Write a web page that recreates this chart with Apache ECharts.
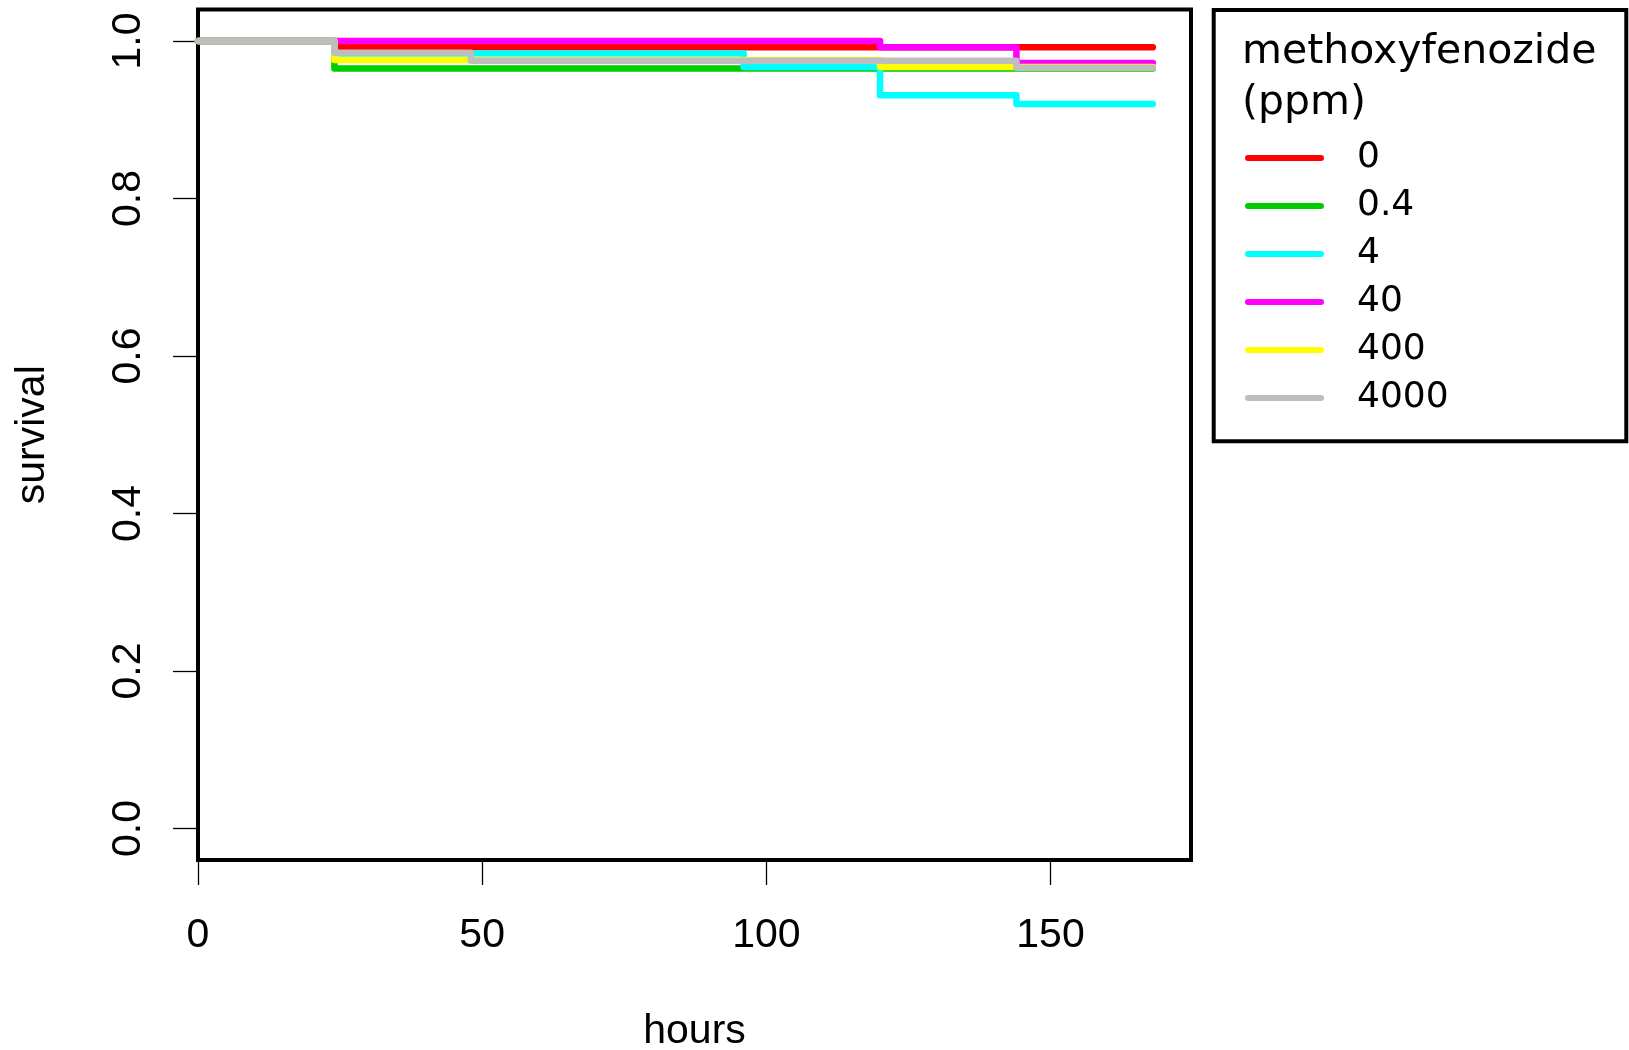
<!DOCTYPE html>
<html>
<head>
<meta charset="utf-8">
<script src="https://cdn.jsdelivr.net/npm/echarts@6/dist/echarts.min.js"></script>
<style>
html,body{margin:0;padding:0;background:#fff;}
#chart{width:1629px;height:1050px;}
</style>
</head>
<body>
<div id="chart"></div>
<script>
// ---- data ----
const groupNames = ['0', '0.4', '4', '40', '400', '4000'];
const groupColors = ['#FF0000', '#00CD00', '#00FFFF', '#FF00FF', '#FFFF00', '#BEBEBE'];

const hours0 = [0, 24, 168];
const surv0  = [1, 0.992, 0.992];

const hours04 = [0, 24, 168];
const surv04  = [1, 0.965, 0.965];

const hours4 = [0, 24, 96, 120, 144, 168];
const surv4  = [1, 0.984, 0.967, 0.931, 0.920, 0.920];

const hours40 = [0, 120, 144, 168];
const surv40  = [1, 0.992, 0.972, 0.972];

const hours400 = [0, 24, 120, 168];
const surv400  = [1, 0.976, 0.967, 0.967];

const hours4000 = [0, 24, 48, 144, 168];
const surv4000  = [1, 0.985, 0.975, 0.966, 0.966];

const xTicks = [0, 50, 100, 150];
const yTicks = [0, 0.2, 0.4, 0.6, 0.8, 1.0];

const legendTitle = ['methoxyfenozide', '(ppm)'];
const xName = 'hours';
const yName = 'survival';

// ---- build ----
const allHours = [hours0, hours04, hours4, hours40, hours400, hours4000];
const allSurv  = [surv0, surv04, surv4, surv40, surv400, surv4000];

const series = groupNames.map((name, k) => ({
  name: name,
  type: 'line',
  step: 'end',
  symbol: 'none',
  showSymbol: false,
  animation: false,
  data: allHours[k].map((h, i) => [h, allSurv[k][i]]),
  lineStyle: { color: groupColors[k], width: 6.5, cap: 'round', join: 'round' },
  itemStyle: { color: groupColors[k] },
  emphasis: { disabled: true }
}));

const axisFont = 'Liberation Sans';
const chart = echarts.init(document.getElementById('chart'), null, { renderer: 'canvas' });
chart.setOption({
  backgroundColor: '#ffffff',
  animation: false,
  grid: {
    left: 198, top: 9.5, width: 993, height: 850.5,
    show: true, borderColor: '#000', borderWidth: 4, backgroundColor: 'transparent',
    containLabel: false, outerBoundsMode: 'none'
  },
  xAxis: {
    type: 'value', min: 0, max: 174.72,
    splitLine: { show: false },
    axisLine: { show: false, onZero: false },
    axisTick: { show: true, inside: false, length: 25, customValues: xTicks,
      lineStyle: { color: '#000', width: 1.3 } },
    axisLabel: { show: true, customValues: xTicks, margin: 76, verticalAlign: 'middle', align: 'center',
      fontFamily: axisFont, fontSize: 41, color: '#000',
      formatter: v => String(v) },
    name: xName, nameLocation: 'middle', nameGap: 172,
    nameTextStyle: { fontFamily: axisFont, fontSize: 41, color: '#000', verticalAlign: 'middle' }
  },
  yAxis: {
    type: 'value', min: -0.04, max: 1.04,
    splitLine: { show: false },
    axisLine: { show: false, onZero: false },
    axisTick: { show: true, inside: false, length: 25, customValues: yTicks,
      lineStyle: { color: '#000', width: 1.3 } },
    axisLabel: { show: true, customValues: yTicks, margin: 69, rotate: 90,
      verticalAlign: 'middle', align: 'center',
      fontFamily: axisFont, fontSize: 41, color: '#000',
      formatter: v => v.toFixed(1) },
    name: yName, nameLocation: 'middle', nameGap: 165, nameRotate: 90,
    nameTextStyle: { fontFamily: axisFont, fontSize: 41, color: '#000', verticalAlign: 'middle' }
  },
  legend: {
    orient: 'vertical', left: 1245, top: 138, padding: 0,
    itemWidth: 79, itemHeight: 6, itemGap: 8,
    icon: 'path://M3,0 L76,0 A3,3 0 0 1 76,6 L3,6 A3,3 0 0 1 3,0 Z',
    selectedMode: false,
    data: groupNames,
    textStyle: { fontFamily: 'DejaVu Sans', fontSize: 36, color: '#000', lineHeight: 40,
      padding: [0, 0, 0, 28] }
  },
  graphic: [
    { type: 'rect', z: 100, shape: { x: 1213.7, y: 10, width: 412.6, height: 431.3 },
      style: { fill: 'transparent', stroke: '#000', lineWidth: 4 } },
    { type: 'text', z: 100, x: 1242, y: 52,
      style: { text: legendTitle[0], fontFamily: 'DejaVu Sans', fontSize: 41, fill: '#000',
        align: 'left', verticalAlign: 'middle' } },
    { type: 'text', z: 100, x: 1242, y: 103,
      style: { text: legendTitle[1], fontFamily: 'DejaVu Sans', fontSize: 41, fill: '#000',
        align: 'left', verticalAlign: 'middle' } }
  ],
  series: series
});
</script>
</body>
</html>
